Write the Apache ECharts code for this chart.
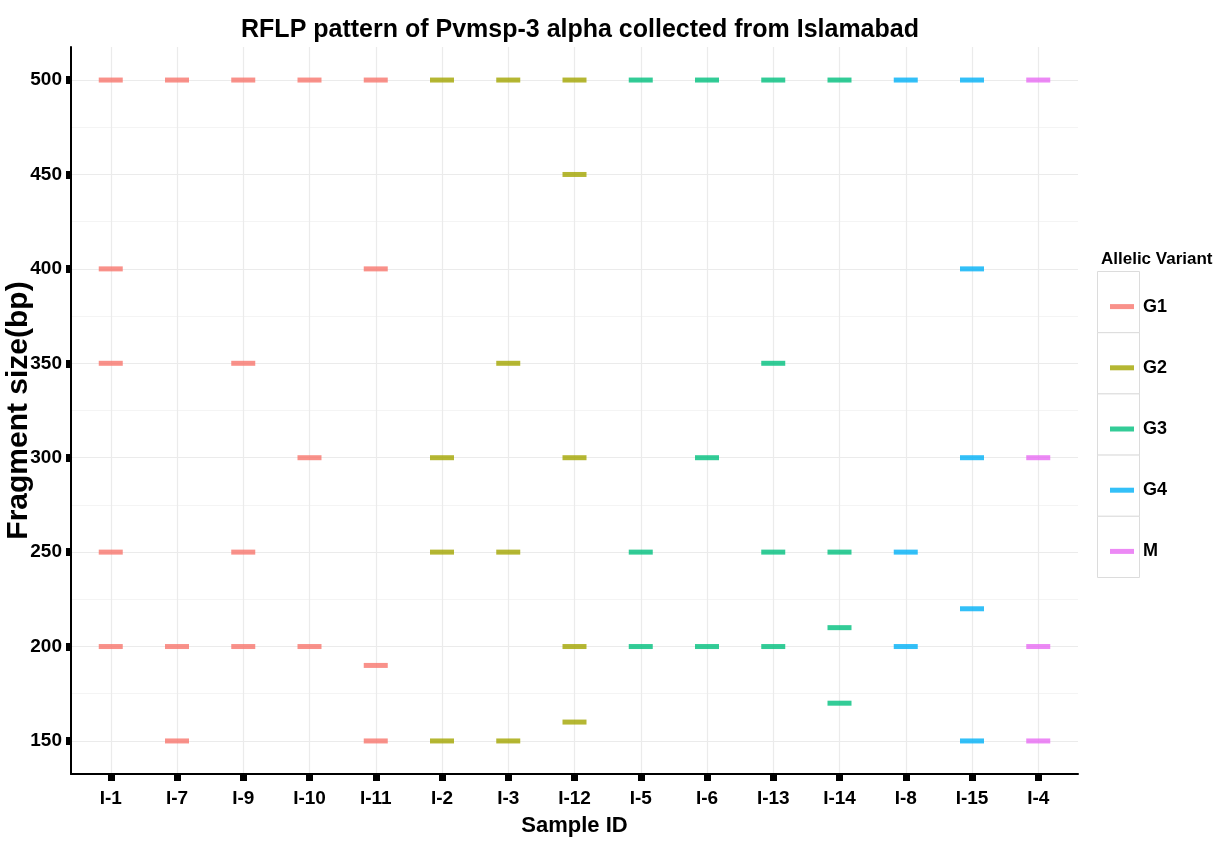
<!DOCTYPE html>
<html>
<head>
<meta charset="utf-8">
<script src="https://cdn.jsdelivr.net/npm/echarts@6/dist/echarts.min.js"></script>
<style>html,body{margin:0;padding:0;background:#fff}#c{width:1220px;height:846px}</style>
</head>
<body>
<div id="c"></div>
<script>
const categories = ['I-1','I-7','I-9','I-10','I-11','I-2','I-3','I-12','I-5','I-6','I-13','I-14','I-8','I-15','I-4'];
const groups = ['G1','G2','G3','G4','M'];
const groupColors = ['#F8766D','#A3A500','#00BF7D','#00B0F6','#E76BF3'];
const sampleGroup = ['G1','G1','G1','G1','G1','G2','G2','G2','G3','G3','G3','G3','G4','G4','M'];
const fragments = [
  [500,400,350,250,200],
  [500,200,150],
  [500,350,250,200],
  [500,300,200],
  [500,400,190,150],
  [500,300,250,150],
  [500,350,250,150],
  [500,450,300,200,160],
  [500,250,200],
  [500,300,200],
  [500,350,250,200],
  [500,250,210,170],
  [500,250,200],
  [500,400,300,220,150],
  [500,300,200,150]
];
const yTicks = [150,200,250,300,350,400,450,500];
const yMinor = [175,225,275,325,375,425,475];

const FONT = "'Liberation Sans',Arial,sans-serif";

const series = groups.map((g, gi) => {
  const data = [];
  sampleGroup.forEach((sg, i) => {
    if (sg === g) fragments[i].forEach(v => data.push([i, v]));
  });
  return {
    name: g, type: 'scatter', data,
    symbol: 'rect', symbolSize: [24, 5],
    itemStyle: { color: groupColors[gi] },
    emphasis: { disabled: true }
  };
});

const legendTop = 271, legendBoxH = 61.2;
const boxes = groups.map((g, i) => ({
  type: 'rect', left: 1097, top: legendTop + i * legendBoxH, z: 0,
  shape: { width: 42, height: legendBoxH },
  style: { fill: '#fff', stroke: '#dcdcdc', lineWidth: 1 }
}));

const chart = echarts.init(document.getElementById('c'), null, { renderer: 'canvas' });
chart.setOption({
  animation: false,
  backgroundColor: '#fff',
  title: [{
    text: 'RFLP pattern of Pvmsp-3 alpha collected from Islamabad',
    left: 575, top: 13, textAlign: 'center',
    textStyle: { fontFamily: FONT, fontWeight: 'bold', fontSize: 25, color: '#000' }
  }, {
    text: 'Allelic Variant', left: 1096, top: 246,
    textStyle: { fontFamily: FONT, fontWeight: 'bold', fontSize: 17, color: '#000' }
  }],
  graphic: boxes,
  legend: {
    data: groups, orient: 'vertical', left: 1105, top: legendTop + legendBoxH / 2 - 10,
    icon: 'rect', itemWidth: 24, itemHeight: 5, itemGap: legendBoxH - 20,
    selectedMode: false,
    textStyle: { fontFamily: FONT, fontWeight: 'bold', fontSize: 18, color: '#000', lineHeight: 20, padding: [0, 0, 0, 4] }
  },
  grid: { left: 71, right: 142, top: 47, bottom: 72, containLabel: false, outerBoundsMode: 'none' },
  xAxis: {
    type: 'value', min: -0.6, max: categories.length - 1 + 0.6,
    name: 'Sample ID', nameLocation: 'middle', nameGap: 41, nameMoveOverlap: false,
    nameTextStyle: { fontFamily: FONT, fontWeight: 'bold', fontSize: 22, color: '#000' },
    axisLine: { show: true, onZero: false, lineStyle: { color: '#000', width: 2 } },
    axisTick: { show: true, customValues: categories.map((c, i) => i), length: 7, lineStyle: { color: '#000', width: 7 } },
    axisLabel: { customValues: categories.map((c, i) => i), formatter: v => categories[Math.round(v)] || '',
      margin: 15, fontFamily: FONT, fontWeight: 'bold', fontSize: 19, color: '#000' },
    splitLine: { show: true, lineStyle: { color: '#ebebeb', width: 1.2 } }
  },
  yAxis: [{
    type: 'value', min: 132.5, max: 517.5,
    name: 'Fragment size(bp)', nameLocation: 'middle', nameGap: 37, nameMoveOverlap: false,
    nameTextStyle: { fontFamily: FONT, fontWeight: 'bold', fontSize: 30, color: '#000' },
    axisLine: { show: true, onZero: false, lineStyle: { color: '#000', width: 2 } },
    axisTick: { show: true, customValues: yTicks, length: 5, lineStyle: { color: '#000', width: 8 } },
    axisLabel: { customValues: yTicks, margin: 9, fontFamily: FONT, fontWeight: 'bold', fontSize: 19, color: '#000' },
    splitLine: { show: true, lineStyle: { color: '#ebebeb', width: 1.2 } }
  }, {
    type: 'value', min: 132.5, max: 517.5, position: 'left', alignTicks: false,
    axisLine: { show: false }, axisLabel: { show: false },
    axisTick: { show: false, customValues: yMinor },
    splitLine: { show: true, lineStyle: { color: '#f4f4f4', width: 1 } }
  }],
  series
});
</script>
</body>
</html>
